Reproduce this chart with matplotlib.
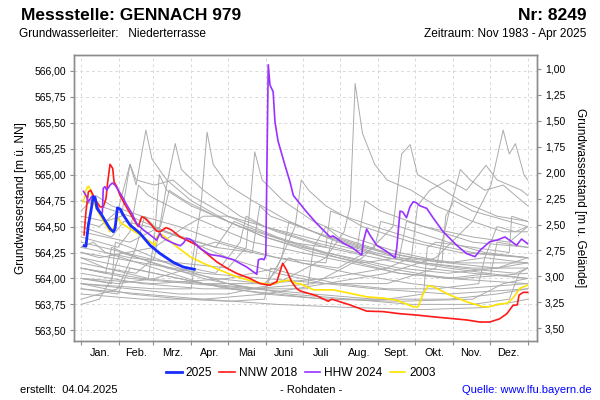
import matplotlib
matplotlib.use("Agg")
import matplotlib.pyplot as plt
from matplotlib.ticker import FixedLocator, FuncFormatter, NullFormatter

plt.rcParams['font.family'] = ['Liberation Sans', 'DejaVu Sans']

# ---------------- data (day of year, level m ü. NN) ----------------
month_labels = ['Jan.', 'Feb.', 'Mrz.', 'Apr.', 'Mai', 'Juni', 'Juli',
                'Aug.', 'Sept.', 'Okt.', 'Nov.', 'Dez.']
month_starts = [0, 31, 59, 90, 120, 151, 181, 212, 243, 273, 304, 334, 365]
left_ticks = [563.50, 563.75, 564.00, 564.25, 564.50, 564.75, 565.00,
              565.25, 565.50, 565.75, 566.00]
right_ticks = [1.00, 1.25, 1.50, 1.75, 2.00, 2.25, 2.50, 2.75, 3.00, 3.25, 3.50]
ground_level = 567.02

days_2025 = [2.5, 4, 6, 8, 10, 11.5, 13, 17, 21, 23.7, 26.4, 27.8, 29.7, 31.9,
             34.6, 40, 48.2, 56.4, 64.6, 75.4, 83.6, 92.6]
lvl_2025 = [564.315, 564.31, 564.515, 564.643, 564.79, 564.78, 564.676, 564.61,
            564.53, 564.48, 564.45, 564.48, 564.68, 564.67, 564.61, 564.515,
            564.435, 564.32, 564.24, 564.155, 564.11, 564.088]

days_2018 = [2.5, 4, 6, 8, 10, 12.8, 15.5, 18.2, 20.4, 21.8, 23.7, 25.9, 27, 29.2,
             31.9, 36, 40, 44, 46.8, 49.6, 52.3, 56.4, 61.8, 64.6, 69.5, 74, 81,
             86.4, 94.5, 102.7, 110.9, 119, 127, 138, 146.3, 154.4, 160, 162.6,
             164.8, 168, 172, 176, 179, 192.6, 202, 205, 220, 233.4, 247, 260.7,
             274.3, 288, 301.5, 315, 326, 334, 342, 348, 353, 356.5, 358, 361.4, 365]
lvl_2018 = [564.42, 564.64, 564.835, 564.85, 564.80, 564.74, 564.69, 564.69,
            564.77, 564.93, 565.10, 565.06, 564.93, 564.885, 564.80, 564.71,
            564.63, 564.55, 564.50, 564.595, 564.58, 564.53, 564.457, 564.45,
            564.49, 564.467, 564.40, 564.37, 564.32, 564.24, 564.16, 564.10,
            564.05, 564.00, 563.95, 563.935, 563.97, 564.065, 564.146, 564.08,
            563.97, 563.905, 563.88, 563.833, 563.78, 563.80, 563.744, 563.685,
            563.68, 563.66, 563.647, 563.63, 563.615, 563.60, 563.58, 563.58,
            563.61, 563.66, 563.74, 563.745, 563.84, 563.866, 563.866]

days_2024 = [2, 4, 6, 8.7, 10, 12.8, 15.5, 17.4, 18.2, 19.6, 21, 23.7, 25.6, 27.8,
             30.5, 34.6, 37.3, 41.4, 45.5, 51, 56.4, 61.8, 64.6, 66, 70, 75.4, 81,
             83.6, 86.4, 89, 91.8, 97.2, 105.4, 113.6, 124.5, 135.4, 143.6, 145,
             147.6, 149.5, 151, 153, 154.4, 157, 158.5, 161, 166.7, 170.8, 173.5,
             179, 183, 192.6, 203.5, 206, 214.3, 222.5, 229.4, 230.7, 233.4, 236,
             241.6, 249.8, 256.6, 258, 260.7, 263, 266, 268.8, 271.5, 274, 277,
             282.5, 288, 296, 307, 315, 322, 326, 334, 340, 346.5, 352, 356, 360, 365]
lvl_2024 = [564.84, 564.80, 564.74, 564.79, 564.78, 564.71, 564.64, 564.63,
            564.87, 564.885, 564.85, 564.90, 564.92, 564.90, 564.85, 564.77,
            564.71, 564.63, 564.53, 564.467, 564.42, 564.37, 564.435, 564.40,
            564.37, 564.34, 564.315, 564.34, 564.387, 564.38, 564.355, 564.29,
            564.23, 564.216, 564.18, 564.11, 564.04, 564.18, 564.19, 564.18,
            564.22, 566.06, 565.865, 565.80, 565.51, 565.325, 565.09, 564.93,
            564.80, 564.72, 564.66, 564.53, 564.40, 564.41, 564.34, 564.29,
            564.226, 564.354, 564.476, 564.42, 564.32, 564.26, 564.20, 564.29,
            564.65, 564.64, 564.585, 564.69, 564.74, 564.73, 564.70, 564.676,
            564.58, 564.45, 564.32, 564.24, 564.21, 564.27, 564.354, 564.37,
            564.40, 564.354, 564.32, 564.38, 564.335]

days_2003 = [2, 4, 6, 8, 10, 14, 18, 23.7, 26.4, 29, 30.5, 33, 40, 48, 56.4, 60.5,
             62, 64.6, 70, 78.2, 89, 100, 113.6, 127, 141, 154.4, 162.6, 170.8,
             176, 179, 190, 206, 220, 233.4, 247, 258, 271.5, 275.6, 279.7, 283.8,
             288, 301.5, 315, 328.7, 334, 340, 348, 353, 358.7, 365]
lvl_2003 = [564.74, 564.85, 564.89, 564.85, 564.74, 564.64, 564.56, 564.45,
            564.48, 564.55, 564.58, 564.53, 564.48, 564.42, 564.354, 564.32,
            564.40, 564.435, 564.387, 564.306, 564.21, 564.146, 564.08, 564.016,
            563.97, 563.94, 563.97, 563.985, 563.95, 563.95, 563.89, 563.89,
            563.856, 563.823, 563.81, 563.79, 563.727, 563.727, 563.856, 563.93,
            563.92, 563.84, 563.775, 563.727, 563.727, 563.75, 563.76, 563.81,
            563.905, 563.935]

# other years (grey), keypoints (day, level)
g01 = [(0, 564.55), (15, 564.5), (30, 564.65), (40, 565.1), (45, 564.9), (53, 565.43), (58, 565.15), (70, 564.95), (90, 564.75), (120, 564.55), (150, 564.4), (180, 564.3), (220, 564.2), (260, 564.1), (300, 564.05), (340, 564.1), (365, 564.15)]
g02 = [(0, 564.2), (20, 564.1), (45, 564.05), (60, 564.2), (70, 564.9), (77, 565.3), (82, 565.05), (100, 564.85), (130, 564.6), (160, 564.45), (200, 564.3), (240, 564.2), (280, 564.1), (320, 564.05), (365, 564.0)]
g03 = [(0, 564.0), (30, 563.95), (60, 564.0), (90, 564.1), (98, 564.7), (103, 565.41), (108, 565.1), (120, 564.9), (140, 564.75), (170, 564.55), (200, 564.4), (240, 564.25), (280, 564.15), (320, 564.1), (365, 564.1)]
g04 = [(0, 564.3), (40, 564.2), (80, 564.15), (120, 564.1), (135, 564.3), (142, 565.22), (148, 564.95), (165, 564.75), (190, 564.55), (220, 564.4), (260, 564.25), (300, 564.15), (340, 564.1), (365, 564.2)]
g05 = [(0, 563.95), (40, 563.9), (80, 563.85), (120, 563.85), (160, 563.95), (200, 564.2), (215, 564.45), (220, 564.7), (224, 565.88), (230, 565.4), (240, 565.1), (250, 564.95), (270, 564.85), (290, 564.7), (320, 564.55), (345, 564.45), (365, 564.45)]
g06 = [(0, 564.1), (40, 564.0), (90, 563.95), (140, 563.9), (190, 563.95), (230, 564.2), (255, 564.5), (262, 565.2), (269, 565.29), (275, 565.0), (290, 564.9), (310, 564.75), (340, 564.6), (365, 564.55)]
g07 = [(0, 564.25), (50, 564.15), (100, 564.05), (150, 564.0), (200, 563.95), (250, 563.95), (290, 564.1), (300, 564.6), (310, 565.05), (318, 564.95), (330, 564.85), (345, 564.9), (360, 564.75), (365, 564.7)]
g08 = [(0, 563.85), (50, 563.8), (100, 563.8), (150, 563.85), (200, 563.95), (250, 564.05), (290, 564.2), (320, 564.55), (335, 564.9), (345, 565.43), (350, 565.2), (355, 565.3), (362, 565.0), (365, 564.95)]
g09 = [(0, 564.0), (60, 563.95), (120, 564.0), (160, 564.1), (175, 564.5), (180, 564.95), (186, 564.85), (200, 564.7), (230, 564.5), (270, 564.35), (310, 564.25), (365, 564.2)]
g10 = [(0, 564.6), (20, 564.55), (33, 564.6), (40, 565.1), (45, 564.95), (60, 564.9), (75, 564.95), (90, 564.8), (120, 564.6), (160, 564.4), (200, 564.25), (250, 564.1), (300, 564.0), (365, 563.95)]
g11 = [(0, 563.8), (30, 563.9), (45, 564.3), (52, 564.6), (60, 564.5), (90, 564.35), (120, 564.2), (160, 564.05), (200, 563.95), (240, 563.9), (300, 563.85), (365, 563.9)]
g12 = [(0, 564.45), (40, 564.35), (65, 564.5), (72, 564.85), (85, 564.75), (110, 564.6), (150, 564.4), (190, 564.25), (230, 564.15), (260, 564.2), (266, 564.55), (280, 564.5), (320, 564.35), (365, 564.3)]
g13 = [(0, 564.0), (25, 563.95), (28, 564.35), (40, 564.3), (80, 564.1), (120, 563.95), (170, 563.85), (220, 563.8), (270, 563.75), (320, 563.75), (350, 563.8), (358, 564.05), (365, 564.1)]
g14 = [(0, 564.35), (35, 564.25), (70, 564.15), (110, 564.05), (130, 564.35), (135, 564.6), (150, 564.5), (190, 564.35), (225, 564.25), (232, 564.75), (245, 564.65), (280, 564.5), (320, 564.4), (350, 564.35), (365, 564.5)]
g15 = [(0, 563.9), (50, 563.85), (100, 563.8), (160, 563.75), (220, 563.72), (280, 563.7), (330, 563.72), (365, 563.8)]
g16 = [(0, 564.15), (20, 564.1), (55, 564.0), (60, 564.4), (64, 565.0), (70, 564.85), (90, 564.7), (130, 564.5), (170, 564.35), (210, 564.2), (260, 564.05), (300, 564.0), (335, 564.05), (340, 564.35), (365, 564.3)]
g17 = [(0, 564.3), (10, 564.35), (20, 564.25), (60, 564.1), (100, 563.95), (150, 563.9), (185, 563.9), (190, 564.3), (200, 564.5), (210, 564.4), (250, 564.25), (295, 564.15), (298, 564.6), (305, 564.75), (320, 564.65), (350, 564.55), (365, 564.5)]
g18 = [(0, 564.75), (15, 564.7), (40, 564.6), (70, 564.45), (110, 564.3), (140, 564.25), (146, 564.7), (155, 564.6), (190, 564.45), (230, 564.3), (270, 564.2), (310, 564.15), (350, 564.15), (365, 564.15)]
g19 = [(0, 563.95), (60, 563.9), (90, 563.9), (95, 564.3), (110, 564.35), (140, 564.25), (180, 564.15), (210, 564.1), (240, 564.3), (245, 564.55), (260, 564.5), (300, 564.35), (330, 564.25), (365, 564.2)]
g20 = [(0, 564.2), (40, 564.1), (80, 564.0), (120, 563.9), (160, 563.85), (200, 563.8), (250, 563.8), (280, 563.85), (283, 564.3), (290, 564.35), (320, 564.3), (350, 564.25), (352, 564.6), (365, 564.55)]
g21 = [(0, 564.5), (25, 564.4), (35, 564.55), (55, 564.5), (80, 564.4), (110, 564.3), (125, 564.55), (135, 564.5), (170, 564.35), (200, 564.3), (204, 564.65), (215, 564.6), (240, 564.5), (280, 564.35), (320, 564.25), (365, 564.2)]
g22 = [(0, 564.1), (50, 564.0), (100, 563.95), (150, 563.95), (200, 564.0), (250, 564.1), (270, 564.2), (275, 564.7), (285, 564.85), (300, 564.95), (315, 564.85), (331, 565.09), (340, 564.95), (360, 564.85), (365, 564.8)]
g23 = [(0, 564.4), (30, 564.3), (40, 564.45), (47, 564.9), (55, 564.8), (80, 564.65), (110, 564.5), (140, 564.35), (180, 564.25), (220, 564.15), (260, 564.05), (310, 564.0), (365, 564.05)]
g24 = [(0, 563.75), (15, 563.8), (25, 564.0), (32, 564.25), (60, 564.15), (100, 564.0), (140, 563.9), (190, 563.85), (240, 563.8), (300, 563.8), (340, 563.85), (365, 563.9)]
g25 = [(0, 564.05), (50, 563.95), (100, 563.9), (150, 563.9), (164, 564.2), (170, 564.55), (180, 564.5), (210, 564.35), (250, 564.2), (300, 564.1), (365, 564.0)]
g26 = [(0, 564.25), (15, 564.2), (60, 564.3), (85, 564.5), (100, 564.6), (120, 564.6), (150, 564.5), (200, 564.35), (250, 564.2), (310, 564.1), (355, 564.05), (365, 564.1)]
g27 = [(0, 563.9), (30, 563.85), (40, 564.1), (60, 564.05), (100, 563.95), (150, 563.85), (200, 563.8), (260, 563.78), (320, 563.8), (345, 563.95), (365, 564.0)]
g28 = [(0, 564.1), (20, 564.05), (25, 564.3), (35, 564.25), (70, 564.1), (110, 564.0), (150, 563.95), (170, 564.2), (180, 564.15), (220, 564.05), (270, 563.95), (310, 563.9), (365, 563.95)]
g29 = [(0, 564.65), (12, 564.8), (25, 564.7), (50, 564.6), (80, 564.5), (115, 564.35), (160, 564.2), (200, 564.15), (206, 564.4), (220, 564.35), (260, 564.2), (300, 564.15), (330, 564.2), (340, 564.5), (355, 564.45), (365, 564.5)]
g30 = [(0, 563.95), (40, 563.85), (85, 563.8), (120, 563.78), (150, 563.8), (155, 564.1), (170, 564.05), (210, 563.95), (250, 563.9), (290, 563.9), (325, 563.95), (330, 564.2), (365, 564.15)]
grey_years = [g01, g02, g03, g04, g05, g06, g07, g08, g09, g10, g11, g12, g13,
              g14, g15, g16, g17, g18, g19, g20, g21, g22, g23, g24, g25, g26,
              g27, g28, g29, g30]

# ---------------- figure ----------------
fig = plt.figure(figsize=(6, 4), dpi=100)
ax = fig.add_axes([74.3 / 600, 59 / 400, 462.4 / 600, 286 / 400])

for g in grey_years:
    ax.plot([p[0] for p in g], [p[1] for p in g], color='#ababab', lw=0.7, zorder=2)

ax.plot(days_2003, lvl_2003, color='#ffe400', lw=1.2, zorder=3, label='2003')
ax.plot(days_2018, lvl_2018, color='#ff1a1a', lw=1.2, zorder=4, label='NNW 2018')
ax.plot(days_2024, lvl_2024, color='#9932ff', lw=1.2, zorder=5, label='HHW 2024')
ax.plot(days_2025, lvl_2025, color='#1a2dff', lw=2.0, zorder=6, label='2025')

ax.set_xlim(-5.5, 372.4)
ax.set_ylim(563.397, 566.154)

spine_col = '#8c8c8c'
for s in ax.spines.values():
    s.set_color(spine_col)
    s.set_linewidth(1.0)

ax.xaxis.set_major_locator(FixedLocator(month_starts))
ax.xaxis.set_major_formatter(NullFormatter())
mids = [(month_starts[i] + month_starts[i + 1]) / 2 for i in range(12)]
ax.xaxis.set_minor_locator(FixedLocator(mids))
ax.set_xticklabels(month_labels, minor=True)
ax.tick_params(axis='x', which='minor', length=0, pad=5, labelsize=7.8)
ax.tick_params(axis='x', which='major', length=3, color=spine_col)

ax.yaxis.set_major_locator(FixedLocator(left_ticks))
ax.yaxis.set_major_formatter(FuncFormatter(lambda v, p: f"{v:.2f}".replace('.', ',')))
ax.tick_params(axis='y', length=3, color=spine_col, labelsize=7.5, pad=3)

ax.grid(True, which='major', color='#d9d9d9', lw=0.7, linestyle=(0, (3, 3)))
ax.set_axisbelow(True)

ax2 = ax.twinx()
y0, y1 = ax.get_ylim()
ax2.set_ylim(ground_level - y0, ground_level - y1)
ax2.yaxis.set_major_locator(FixedLocator(right_ticks))
ax2.yaxis.set_major_formatter(FuncFormatter(lambda v, p: f"{v:.2f}".replace('.', ',')))
ax2.tick_params(axis='y', length=3, color=spine_col, labelsize=7.5, pad=3)
for s in ax2.spines.values():
    s.set_color(spine_col)
    s.set_linewidth(1.0)

# axis labels
fig.text(21 / 600, 1 - 198 / 400, 'Grundwasserstand [m ü. NN]', rotation=90,
         ha='center', va='center', fontsize=8.5)
fig.text(580 / 600, 1 - 198 / 400, 'Grundwasserstand [m u. Gelände]', rotation=270,
         ha='center', va='center', fontsize=8.5)

# titles
fig.text(21 / 600, 1 - 15 / 400, 'Messstelle: GENNACH 979', fontsize=12.5,
         fontweight='bold', ha='left', va='center')
fig.text(586 / 600, 1 - 15 / 400, 'Nr: 8249', fontsize=12.5,
         fontweight='bold', ha='right', va='center')
fig.text(19 / 600, 1 - 34 / 400, 'Grundwasserleiter:   Niederterrasse', fontsize=8.6,
         ha='left', va='center')
fig.text(586 / 600, 1 - 34 / 400, 'Zeitraum: Nov 1983 - Apr 2025', fontsize=8.6,
         ha='right', va='center')

# legend
h, l = ax.get_legend_handles_labels()
order = [3, 1, 2, 0]
fig.legend([h[i] for i in order], [l[i] for i in order], loc='center',
           bbox_to_anchor=(301 / 600, 1 - 373 / 400), ncol=4, frameon=False,
           fontsize=8.6, handlelength=1.3, handletextpad=0.35, columnspacing=0.6)

# footer
fig.text(20 / 600, 1 - 390 / 400, 'erstellt:  04.04.2025', fontsize=8.0,
         ha='left', va='center')
fig.text(311 / 600, 1 - 390 / 400, '- Rohdaten -', fontsize=8.0,
         ha='center', va='center')
fig.text(592 / 600, 1 - 390 / 400, 'Quelle: www.lfu.bayern.de', fontsize=8.0,
         ha='right', va='center', color='#0000ff')

fig.savefig('out.png', dpi=100)
